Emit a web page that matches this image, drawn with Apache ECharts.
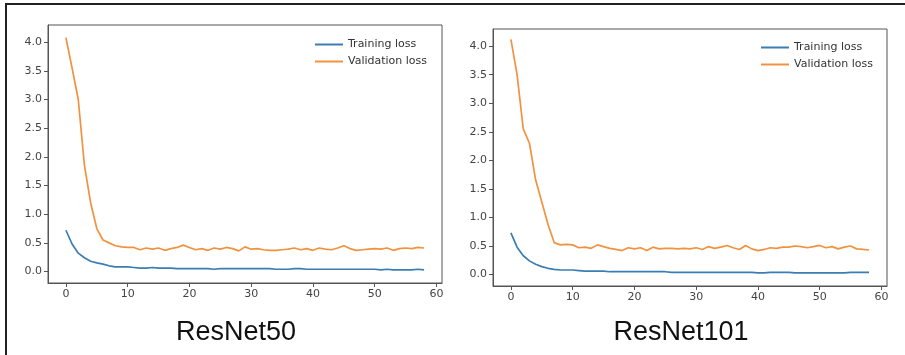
<!DOCTYPE html>
<html>
<head>
<meta charset="utf-8">
<script src="https://cdn.jsdelivr.net/npm/echarts@6/dist/echarts.min.js"></script>
<style>
  html, body { margin: 0; padding: 0; background: #fff; }
  #chart { width: 905px; height: 355px; }
</style>
</head>
<body>
<div id="chart"></div>
<script>
// 两张训练曲线：ResNet50 / ResNet101，每张 59 个 epoch

const epochs = Array.from({ length: 59 }, (_, i) => i)

const r50Train = [
  0.72, 0.48, 0.32, 0.24, 0.18, 0.15, 0.13, 0.10, 0.08, 0.08,
  0.08, 0.07, 0.06, 0.06, 0.07, 0.06, 0.06, 0.06, 0.05, 0.05,
  0.05, 0.05, 0.05, 0.05, 0.04, 0.05, 0.05, 0.05, 0.05, 0.05,
  0.05, 0.05, 0.05, 0.05, 0.04, 0.04, 0.04, 0.05, 0.05, 0.04,
  0.04, 0.04, 0.04, 0.04, 0.04, 0.04, 0.04, 0.04, 0.04, 0.04,
  0.04, 0.03, 0.04, 0.03, 0.03, 0.03, 0.03, 0.04, 0.03,
]
const r50Val = [
  4.08, 3.55, 3.00, 1.85, 1.20, 0.75, 0.55, 0.50, 0.45, 0.43,
  0.42, 0.42, 0.38, 0.41, 0.39, 0.41, 0.37, 0.40, 0.42, 0.46,
  0.42, 0.38, 0.40, 0.37, 0.41, 0.39, 0.42, 0.40, 0.36, 0.43,
  0.39, 0.40, 0.38, 0.37, 0.37, 0.38, 0.39, 0.41, 0.38, 0.40,
  0.37, 0.41, 0.39, 0.38, 0.41, 0.45, 0.40, 0.37, 0.38, 0.39,
  0.40, 0.39, 0.41, 0.37, 0.40, 0.41, 0.40, 0.42, 0.41,
]
const r101Train = [
  0.73, 0.48, 0.33, 0.24, 0.18, 0.14, 0.11, 0.09, 0.08, 0.08,
  0.08, 0.07, 0.06, 0.06, 0.06, 0.06, 0.05, 0.05, 0.05, 0.05,
  0.05, 0.05, 0.05, 0.05, 0.05, 0.05, 0.04, 0.04, 0.04, 0.04,
  0.04, 0.04, 0.04, 0.04, 0.04, 0.04, 0.04, 0.04, 0.04, 0.04,
  0.03, 0.03, 0.04, 0.04, 0.04, 0.04, 0.03, 0.03, 0.03, 0.03,
  0.03, 0.03, 0.03, 0.03, 0.03, 0.04, 0.04, 0.04, 0.04,
]
const r101Val = [
  4.12, 3.50, 2.55, 2.30, 1.66, 1.27, 0.88, 0.56, 0.52, 0.53,
  0.52, 0.47, 0.48, 0.46, 0.52, 0.49, 0.46, 0.44, 0.42, 0.47,
  0.45, 0.47, 0.42, 0.48, 0.45, 0.46, 0.46, 0.45, 0.46, 0.45,
  0.47, 0.44, 0.49, 0.46, 0.48, 0.51, 0.47, 0.44, 0.51, 0.45,
  0.42, 0.44, 0.47, 0.46, 0.48, 0.48, 0.50, 0.49, 0.47, 0.49,
  0.51, 0.47, 0.49, 0.45, 0.48, 0.50, 0.45, 0.44, 0.43,
]

const xTicks = [0, 10, 20, 30, 40, 50, 60]
const yTicks = [0, 0.5, 1, 1.5, 2, 2.5, 3, 3.5, 4]

const BLUE = '#3b7db3'
const ORANGE = '#f2923f'
const AXIS = '#555'
const LABEL = '#444'

const chart = echarts.init(document.getElementById('chart'), null, { renderer: 'canvas' })

const pair = (xs, ys) => xs.map((x, i) => [x, ys[i]])

function xAxisFor(gridIndex) {
  return {
    type: 'value', gridIndex, min: -2.9, max: 60.9,
    axisLine: { show: true, onZero: false, lineStyle: { color: AXIS, width: 1 } },
    axisTick: { show: true, length: 4, customValues: xTicks, lineStyle: { color: AXIS } },
    axisLabel: { customValues: xTicks, color: LABEL, fontSize: 11, margin: 6,
      fontFamily: 'DejaVu Sans', formatter: (v) => String(v) },
    splitLine: { show: false },
  }
}
function yAxisFor(gridIndex) {
  return {
    type: 'value', gridIndex, min: -0.2, max: 4.3,
    axisLine: { show: true, onZero: false, lineStyle: { color: AXIS, width: 1 } },
    axisTick: { show: true, length: 4, customValues: yTicks, lineStyle: { color: AXIS } },
    axisLabel: { customValues: yTicks, color: LABEL, fontSize: 11, margin: 6,
      fontFamily: 'DejaVu Sans', formatter: (v) => v.toFixed(1) },
    splitLine: { show: false },
  }
}
function lineSeries(name, gridIndex, data, color) {
  return {
    name, type: 'line', xAxisIndex: gridIndex, yAxisIndex: gridIndex,
    data, symbol: 'none', smooth: false, animation: false,
    lineStyle: { color, width: 1.7 }, itemStyle: { color },
  }
}
const legendText = { color: '#333', fontSize: 11, fontFamily: 'DejaVu Sans' }
const legendBase = {
  orient: 'vertical', icon: 'rect', itemWidth: 28, itemHeight: 2, itemGap: 6,
  textStyle: legendText, data: ['Training loss', 'Validation loss'],
}

chart.setOption({
  animation: false,
  backgroundColor: '#fff',
  grid: [
    { left: 48, top: 25, width: 394, height: 258, show: true, borderColor: AXIS, borderWidth: 1 },
    { left: 493, top: 29, width: 394, height: 257, show: true, borderColor: AXIS, borderWidth: 1 },
  ],
  xAxis: [xAxisFor(0), xAxisFor(1)],
  yAxis: [yAxisFor(0), yAxisFor(1)],
  legend: [
    Object.assign({ left: 310, top: 34 }, legendBase),
    Object.assign({ left: 756, top: 37 }, legendBase),
  ],
  title: [
    { text: 'ResNet50', left: 231, top: 314, textAlign: 'center',
      textStyle: { fontFamily: 'Liberation Sans', fontSize: 27, fontWeight: 'normal', color: '#111' } },
    { text: 'ResNet101', left: 676, top: 314, textAlign: 'center',
      textStyle: { fontFamily: 'Liberation Sans', fontSize: 27, fontWeight: 'normal', color: '#111' } },
  ],
  graphic: [
    { type: 'line', shape: { x1: 5, y1: 4, x2: 905, y2: 4 }, style: { stroke: '#222', lineWidth: 2 } },
    { type: 'line', shape: { x1: 6, y1: 4, x2: 6, y2: 355 }, style: { stroke: '#222', lineWidth: 2 } },
  ],
  series: [
    lineSeries('Training loss', 0, pair(epochs, r50Train), BLUE),
    lineSeries('Validation loss', 0, pair(epochs, r50Val), ORANGE),
    lineSeries('Training loss', 1, pair(epochs, r101Train), BLUE),
    lineSeries('Validation loss', 1, pair(epochs, r101Val), ORANGE),
  ],
})
</script>
</body>
</html>
